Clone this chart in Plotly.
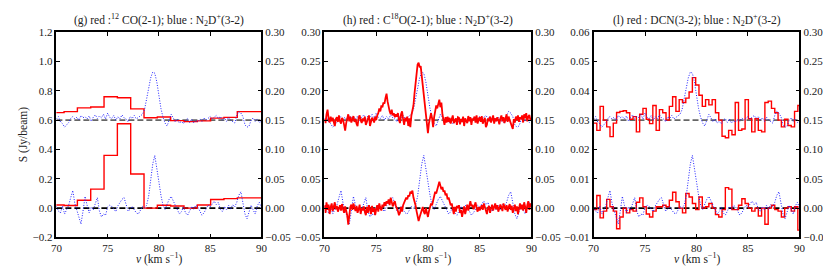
import plotly.graph_objects as go

# ---------------- data ----------------
# N2D+(3-2) spectra (Jy/beam), 0.2 km/s channels, 70..90 km/s
n2d_v_start, n2d_dv = 70.0, 0.2
n2d_top = [2, 6, -3, -6, -12, -8, -4, 3, 6, 2,
           5, 0, 8, 4, 6, 2, 7, -2, 5, 9,
           3, 7, 4, 10, 2, 12, 5, 3, 8, 0,
           6, 2, 9, 4, 2, -3, 6, 3, 8, 2,
           5, 8, 10, 18, 35, 55, 72, 82, 80, 65,
           40, 20, 5, -5, -10, 0, 10, 4, -3, 2,
           -5, -2, -6, 0, 3, -4, 2, -5, -1, -3,
           2, -2, 4, 0, 3, 6, 2, 5, 8, 3,
           6, 0, 4, -2, 5, 0, -3, -5, 8, 15,
           12, 6, -8, -12, -10, 0, 4, -2, 2, -4, -2]
n2d_bot = [3, -5, -8, 4, -10, -3, 5, 18, 30, 8,
           -5, -15, -27, -5, 20, 5, -8, 2, -3, 8,
           18, -5, -15, -10, -12, 2, 5, 3, -2, -6,
           4, 10, 15, 18, 5, -5, -2, 3, -3, -8,
           -10, -2, 3, 0, 5, 20, 45, 75, 90, 70,
           45, 22, 5, -2, 8, 15, 20, 12, 5, -3,
           -10, -6, 2, -8, -12, -5, 3, -2, 5, 2,
           -6, -12, -8, 0, 5, 2, 8, 12, 6, 10,
           -2, -6, 3, -3, 5, -2, 6, 2, 10, 22,
           28, 8, -10, -18, -5, 5, -3, -10, 4, 10, 0]
n2d_offset = 0.15

# 12CO(2-1): channel left edges (km/s) and values (Jy/beam)
co_edges = [69.45, 70.75, 72.05, 73.35, 74.65, 75.95, 77.25, 78.55,
            79.85, 81.15, 82.45, 83.75, 85.05, 86.35, 87.65, 88.95]
co_dv = 1.3
co_top = [0.051, 0.058, 0.084, 0.090, 0.160, 0.153, 0.077, 0.016,
          0.021, -0.003, -0.010, -0.005, 0.014, 0.019, 0.058, 0.058]
co_bot = [0.022, 0.018, 0.054, 0.130, 0.360, 0.575, 0.233, 0.000,
          0.020, 0.015, 0.000, 0.022, 0.059, 0.065, 0.070, 0.070]
co_offset = 0.6

# C18O(2-1): 0.1 km/s channels, values in mJy/beam
c18o_v_start, c18o_dv = 70.0, 0.1
c18o_top = [2, -5, 10, 18, 3, -4, 6, -2, 4, -6,
            -10, 2, 5, -3, 8, -2, -6, 4, 0, -8,
            -18, -5, 4, 10, -2, 6, -4, 3, 7, -3,
            2, -6, -10, 4, 8, 0, -5, 3, -2, 6,
            -8, -3, 5, 8, -10, -2, 4, 1, -4, 6,
            0, 8, 12, 20, 15, 25, 22, 30, 28, 38,
            45, 32, 22, 15, 10, 18, 8, 12, 5, 10,
            6, 12, 0, -5, 10, 15, 2, -8, 4, -2,
            6, -10, 3, -12, 8, 15, 25, 45, 65, 85,
            95, 98, 90, 92, 75, 55, 40, 20, 5, -10,
            -22, -5, 8, 12, 3, -12, 5, 15, 25, 20,
            28, 35, 22, 30, 10, 0, -8, 5, -4, 6,
            -3, 4, -6, 2, 8, -5, 0, 3, -8, 5,
            4, -7, 2, -3, 6, -10, 3, 0, -5, 7,
            -2, 5, -8, 3, 0, 6, -4, 8, -6, 2,
            5, -3, 7, -6, 0, 4, -12, -8, 3, -2,
            6, -4, 2, 8, -6, 3, -2, 5, 0, -7,
            3, 8, -2, 5, -5, 2, 10, -3, 6, 0,
            -5, -10, -15, 2, -4, 6, 0, 8, -3, 5,
            2, 8, -4, 10, 3, 12, -2, 6, 9, 0,
            4]
c18o_bot = [5, -8, 10, -3, 6, -10, 2, 8, -5, 3,
            10, -2, 4, -6, 0, 5, -4, 7, -2, -8,
            3, -5, -12, -28, -8, 2, 6, -3, 8, 0,
            -5, 4, -8, -2, 6, -10, 0, -4, 3, -6,
            -12, 2, -8, 5, -3, -10, 4, -6, 0, -12,
            -2, 5, -6, 8, 0, -4, 6, 2, 10, 4,
            12, 8, 15, 5, 18, 10, 3, 8, 12, 4,
            0, -5, -12, -8, 2, -6, 5, 10, 12, 18,
            15, 22, 20, 28, 25, 30, 18, 12, 5, -5,
            -12, -22, -15, -8, -3, 2, -6, -10, 0, -8,
            -15, -5, 2, 8, 5, 15, 20, 28, 25, 35,
            38, 45, 40, 32, 36, 28, 30, 22, 25, 15,
            18, 10, 5, 8, -5, -10, 2, -6, 4, 0,
            5, -8, -3, -15, -6, 3, -10, 2, 6, -4,
            8, 12, 3, 6, -2, 5, 10, 0, -6, 2,
            -4, 0, 5, -3, 8, 2, -6, -10, 0, 4,
            -8, -2, 6, -4, 3, 8, -2, 5, -6, 0,
            6, 2, -5, 8, 0, -3, 5, -6, 2, 7,
            -3, 4, -8, 0, 6, -5, 3, -10, 2, 8,
            -2, 6, -4, 10, 2, -8, 5, 12, -3, 8,
            3]
c18o_offset = 0.15

# DCN(3-2): 0.32 km/s channels (left edges from 70.0), values in mJy/beam
dcn_v_start, dcn_dv = 70.0, 0.32
dcn_top = [-1.0, -3.5, 4.7, 0.0, -2.3, -5.6, -1.0, 2.6, 3.0, 3.2,
           2.5, 0.3, 1.2, -4.0, 2.0, 4.0, 0.3, -1.2, 5.0, -3.5,
           3.6, 2.5, 0.0, 4.7, 8.0, 3.0, 7.0, 6.0, 7.5, 9.6,
           14.5, 12.0, 8.5, 4.7, 7.0, 5.2, 7.0, 2.5, 0.0, -5.5,
           -6.0, -3.5, -5.0, 6.0, -3.5, -3.0, 7.0, 0.5, -4.0, 0.5,
           -3.5, -4.0, 6.0, 6.5, 4.0, 2.5, 0.0, -2.3, 0.3, -1.8,
           -2.3, 3.0, 5.0]
dcn_bot = [-0.5, 4.3, -3.3, -1.0, 3.0, 0.5, -1.0, -7.0, -3.0, 0.0,
           -1.6, -0.5, -1.0, 2.0, 3.5, 0.5, -2.0, -3.0, -1.0, 0.5,
           0.5, 1.0, 0.5, 2.7, 5.4, 2.2, 0.0, -1.6, 5.0, 3.8,
           1.6, -0.5, 3.8, 0.0, 0.5, 1.6, 0.0, -2.2, -3.0, -0.5,
           7.0, 6.5, -0.5, -0.5, 1.0, 3.2, 1.6, 0.0, -1.0, 0.0,
           -2.7, 0.0, -5.5, 0.0, 1.0, -0.5, -1.0, -3.0, 0.0, 0.5,
           -1.0, 0.5, -7.5]
dcn_offset = 0.03

titles = ["(g) red :<sup>12</sup> CO(2-1); blue : N<sub>2</sub>D<sup>+</sup>(3-2)",
          "(h) red : C<sup>18</sup>O(2-1); blue : N<sub>2</sub>D<sup>+</sup>(3-2)",
          "(l) red : DCN(3-2); blue : N<sub>2</sub>D<sup>+</sup>(3-2)"]
xlabel = "<i>v</i> (km s<sup>−1</sup>)"
ylabel = "S (Jy/beam)"

# ---------------- helpers ----------------
W, H = 831, 267
FONT = "Liberation Serif"
RED = "#ff0000"
BLUE = "#1f1fff"
DOT = "1px,1.6px"
DASH = "6px,3px"


def grid(start, dv, n):
    return [round(start + dv * i, 4) for i in range(n)]


def steps(edges, vals, dv, scale=1.0, offset=0.0):
    x = list(edges) + [edges[-1] + dv]
    y = [v * scale + offset for v in vals]
    y = y + [y[-1]]
    return x, y


n2d_v = grid(n2d_v_start, n2d_dv, len(n2d_top))
c18o_v = grid(c18o_v_start, c18o_dv, len(c18o_top))
dcn_edges = grid(dcn_v_start, dcn_dv, len(dcn_top))

fig = go.Figure()


def line(x, y, xa, ya, color, width, dash="solid", shape="linear"):
    fig.add_trace(go.Scatter(x=x, y=y, xaxis=xa, yaxis=ya, mode="lines",
                             line=dict(color=color, width=width, dash=dash, shape=shape),
                             showlegend=False, hoverinfo="skip"))


# Panel 1 (left axis y, right axis y2)
line([70, 90], [0, 0], "x", "y", "black", 1.6, dash=DASH)
line([70, 90], [co_offset, co_offset], "x", "y", "rgba(0,0,0,0.6)", 1.6, dash=DASH)
x, y = steps(co_edges, co_bot, co_dv)
line(x, y, "x", "y", RED, 1.4, shape="hv")
x, y = steps(co_edges, co_top, co_dv, offset=co_offset)
line(x, y, "x", "y", RED, 1.4, shape="hv")
line(n2d_v, [v / 1000 for v in n2d_bot], "x", "y2", BLUE, 1.0, dash=DOT)
line(n2d_v, [v / 1000 + n2d_offset for v in n2d_top], "x", "y2", BLUE, 1.0, dash=DOT)

# Panel 2 (left y3, right y4); red drawn on the right axis (same scale) to stay on top
line([70, 90], [0, 0], "x2", "y3", "black", 1.6, dash=DASH)
line([70, 90], [c18o_offset, c18o_offset], "x2", "y3", "rgba(0,0,0,0.6)", 1.6, dash=DASH)
line(n2d_v, [v / 1000 for v in n2d_bot], "x2", "y4", BLUE, 1.0, dash=DOT)
line(n2d_v, [v / 1000 + n2d_offset for v in n2d_top], "x2", "y4", BLUE, 1.0, dash=DOT)
line(c18o_v, [v / 1000 for v in c18o_bot], "x2", "y4", RED, 1.8)
line(c18o_v, [v / 1000 + c18o_offset for v in c18o_top], "x2", "y4", RED, 1.8)

# Panel 3 (left y5, right y6)
line([70, 90], [0, 0], "x3", "y5", "black", 1.6, dash=DASH)
line([70, 90], [dcn_offset, dcn_offset], "x3", "y5", "rgba(0,0,0,0.6)", 1.6, dash=DASH)
x, y = steps(dcn_edges, dcn_bot, dcn_dv, scale=0.001)
line(x, y, "x3", "y5", RED, 1.4, shape="hv")
x, y = steps(dcn_edges, dcn_top, dcn_dv, scale=0.001, offset=dcn_offset)
line(x, y, "x3", "y5", RED, 1.4, shape="hv")
line(n2d_v, [v / 1000 for v in n2d_bot], "x3", "y6", BLUE, 1.0, dash=DOT)
line(n2d_v, [v / 1000 + n2d_offset for v in n2d_top], "x3", "y6", BLUE, 1.0, dash=DOT)

# ---------------- layout ----------------
tickfont = dict(family=FONT, size=11, color="#222")
panels_px = [(43, 251), (315, 525), (588, 797)]
top_px, bot_px = 19, 234
ydom = [1 - bot_px / H, 1 - top_px / H]

common_axis = dict(showline=True, linecolor="black", linewidth=1.5, ticks="inside",
                   ticklen=4, tickwidth=1, tickcolor="black", showgrid=False,
                   zeroline=False, tickfont=tickfont)

left_ranges = [([-0.2, 1.2], 0.2, ".1f"), ([-0.05, 0.30], 0.05, ".2f"), ([-0.01, 0.06], 0.01, ".2f")]
layout = {}
for i, (x0, x1) in enumerate(panels_px):
    xn = "xaxis" if i == 0 else f"xaxis{i + 1}"
    yl = f"y{2 * i + 1}" if i else "y"
    yln = "yaxis" if i == 0 else f"yaxis{2 * i + 1}"
    yrn = f"yaxis{2 * i + 2}"
    xa = "x" if i == 0 else f"x{i + 1}"
    layout[xn] = dict(common_axis, domain=[x0 / W, x1 / W], range=[70, 90],
                      tickvals=[70, 75, 80, 85, 90], mirror="ticks", anchor=yl)
    rng, dt, fmt = left_ranges[i]
    layout[yln] = dict(common_axis, domain=ydom, range=rng, dtick=dt, tick0=0,
                       tickformat=fmt, anchor=xa, side="left")
    layout[yrn] = dict(common_axis, range=[-0.05, 0.30], dtick=0.05, tick0=0,
                       tickformat=".2f", anchor=xa, overlaying=yl, side="right")

annotations = []
for i, (x0, x1) in enumerate(panels_px):
    annotations.append(dict(text=titles[i], x=(x0 + x1) / 2 / W, y=1 - (top_px - 2) / H,
                            xref="paper", yref="paper", xanchor="center", yanchor="bottom",
                            showarrow=False, font=dict(family=FONT, size=11.5, color="#222")))
    annotations.append(dict(text=xlabel, x=(x0 + x1) / 2 / W, y=1 - 256 / H,
                            xref="paper", yref="paper", xanchor="center", yanchor="middle",
                            showarrow=False, font=dict(family=FONT, size=11.5, color="#222")))
annotations.append(dict(text=ylabel, x=9 / W, y=1 - 126 / H, xref="paper", yref="paper",
                        xanchor="center", yanchor="middle", textangle=-90, showarrow=False,
                        font=dict(family=FONT, size=11.5, color="#222")))

fig.update_layout(width=W, height=H, margin=dict(l=0, r=0, t=0, b=0),
                  paper_bgcolor="white", plot_bgcolor="white",
                  annotations=annotations, **layout)

fig.write_html("out.html")
